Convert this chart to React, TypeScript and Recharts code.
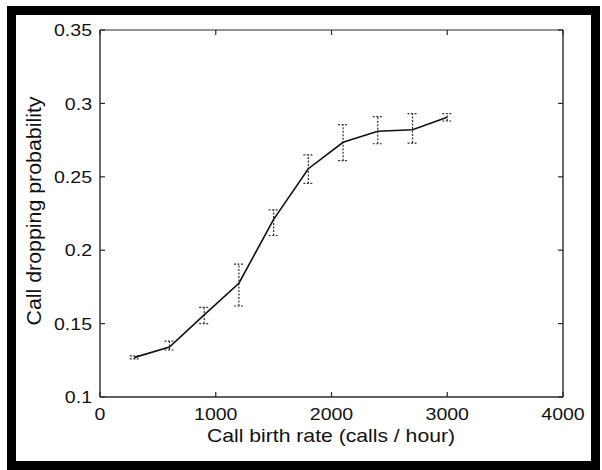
import React from "react";
import { LineChart, Line, XAxis, YAxis, ErrorBar } from "recharts";

const rates = [300, 600, 900, 1200, 1500, 1800, 2100, 2400, 2700, 3000];
const prob = [0.127, 0.134, 0.156, 0.1775, 0.221, 0.2555, 0.2735, 0.281, 0.282, 0.2905];
const lowerBound = [0.126, 0.132, 0.15, 0.162, 0.21, 0.2455, 0.261, 0.2725, 0.273, 0.288];
const upperBound = [0.128, 0.138, 0.161, 0.1905, 0.2275, 0.265, 0.2855, 0.291, 0.293, 0.293];

const xTicks = [0, 1000, 2000, 3000, 4000];
const yTicks = [0.1, 0.15, 0.2, 0.25, 0.3, 0.35];

const xLabel = "Call birth rate (calls / hour)";
const yLabel = "Call dropping probability";

const data = rates.map((x, i) => ({
  x,
  p: prob[i],
  err: [prob[i] - lowerBound[i], upperBound[i] - prob[i]],
}));

const FONT = "'Liberation Sans', Arial, Helvetica, sans-serif";
const INK = "#111";
const AXIS = "#2a2a2a";

const BottomTick = (props: any) => {
  const { x, y, payload } = props;
  return (
    <g>
      <line x1={x} x2={x} y1={y} y2={y - 5} stroke={AXIS} strokeWidth={1.2} />
      <text
        transform={`translate(${x},${y + 23}) scale(1.15,1)`}
        textAnchor="middle"
        fontSize={17}
        fontFamily={FONT}
        fill={INK}
      >
        {payload.value}
      </text>
    </g>
  );
};

const TopTick = (props: any) => {
  const { x, y } = props;
  return <line x1={x} x2={x} y1={y} y2={y + 5} stroke={AXIS} strokeWidth={1.2} />;
};

const LeftTick = (props: any) => {
  const { x, y, payload } = props;
  return (
    <g>
      <line x1={x} x2={x + 5} y1={y} y2={y} stroke={AXIS} strokeWidth={1.2} />
      <text
        transform={`translate(${x - 8},${y}) scale(1.15,1)`}
        textAnchor="end"
        dy="0.36em"
        fontSize={17}
        fontFamily={FONT}
        fill={INK}
      >
        {String(payload.value)}
      </text>
    </g>
  );
};

const RightTick = (props: any) => {
  const { x, y } = props;
  return <line x1={x} x2={x - 5} y1={y} y2={y} stroke={AXIS} strokeWidth={1.2} />;
};

export default function App() {
  return (
    <div
      style={{
        position: "absolute",
        left: 0,
        top: 0,
        width: 602,
        height: 470,
        background: "#fff",
        overflow: "hidden",
      }}
    >
      <LineChart
        width={602}
        height={470}
        data={data}
        margin={{ top: 0, right: 9, bottom: 0, left: 0 }}
      >
        <XAxis
          xAxisId="b"
          dataKey="x"
          type="number"
          domain={[0, 4000]}
          ticks={xTicks}
          allowDataOverflow
          height={73}
          orientation="bottom"
          tickSize={0}
          tickMargin={0}
          tickLine={false}
          tick={<BottomTick />}
          axisLine={{ stroke: AXIS, strokeWidth: 1.4 }}
          interval={0}
        />
        <XAxis
          xAxisId="t"
          dataKey="x"
          type="number"
          domain={[0, 4000]}
          ticks={xTicks}
          allowDataOverflow
          height={30}
          orientation="top"
          tickSize={0}
          tickMargin={0}
          tickLine={false}
          tick={<TopTick />}
          axisLine={{ stroke: AXIS, strokeWidth: 1.2 }}
          interval={0}
        />
        <YAxis
          yAxisId="l"
          type="number"
          domain={[0.1, 0.35]}
          ticks={yTicks}
          allowDataOverflow
          width={100}
          orientation="left"
          tickSize={0}
          tickMargin={0}
          tickLine={false}
          tick={<LeftTick />}
          axisLine={{ stroke: AXIS, strokeWidth: 1.4 }}
          interval={0}
        />
        <YAxis
          yAxisId="r"
          type="number"
          domain={[0.1, 0.35]}
          ticks={yTicks}
          allowDataOverflow
          width={30}
          orientation="right"
          tickSize={0}
          tickMargin={0}
          tickLine={false}
          tick={<RightTick />}
          axisLine={{ stroke: AXIS, strokeWidth: 1.4 }}
          interval={0}
        />
        <Line
          xAxisId="b"
          yAxisId="l"
          type="linear"
          dataKey="p"
          stroke={INK}
          strokeWidth={1.6}
          dot={false}
          activeDot={false}
          isAnimationActive={false}
        >
          <ErrorBar
            dataKey="err"
            direction="y"
            width={5}
            stroke="#333"
            strokeWidth={1.2}
            strokeDasharray="2 1.5"
            isAnimationActive={false}
          />
        </Line>
      </LineChart>
      <svg
        width={602}
        height={470}
        style={{ position: "absolute", left: 0, top: 0, pointerEvents: "none" }}
      >
        <text
          x={207}
          y={442}
          textLength={248}
          lengthAdjust="spacingAndGlyphs"
          fontSize={18.5}
          fontFamily={FONT}
          fill={INK}
        >
          {xLabel}
        </text>
        <text
          transform="translate(41,211) rotate(-90)"
          textAnchor="middle"
          textLength={229}
          lengthAdjust="spacingAndGlyphs"
          fontSize={19.5}
          fontFamily={FONT}
          fill={INK}
        >
          {yLabel}
        </text>
      </svg>
      <div
        style={{
          position: "absolute",
          left: 7,
          top: 6,
          width: 593,
          height: 464,
          border: "9px solid #000",
          boxSizing: "border-box",
          pointerEvents: "none",
        }}
      />
    </div>
  );
}
